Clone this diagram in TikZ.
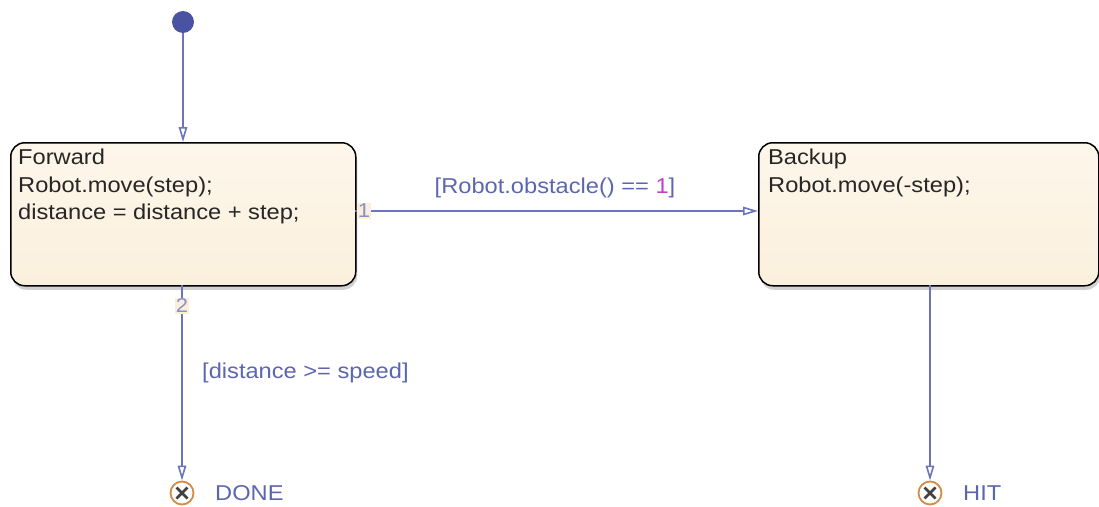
\documentclass[tikz,border=0pt]{standalone}
\usepackage{fontspec}
\setmainfont[FakeStretch=1.1]{Liberation Sans}
\usetikzlibrary{arrows.meta,shadows}
\definecolor{trans}{HTML}{6C74BE}
\definecolor{lbl}{HTML}{5C66B0}
\definecolor{dotc}{HTML}{4A53A2}
\definecolor{cream}{HTML}{FBF0DD}
\definecolor{creamtop}{HTML}{FDF6EA}
\definecolor{termc}{HTML}{D58A45}
\definecolor{numc}{HTML}{8A90C8}
\definecolor{numbg}{HTML}{FBEFDB}
\definecolor{magc}{HTML}{C040C0}
\tikzset{
  statebox/.style={draw=black, line width=1.5pt, rounded corners=14pt,
    top color=creamtop, bottom color=cream, minimum width=345pt, minimum height=143pt,
    anchor=north west, inner sep=0pt,
    drop shadow={shadow xshift=1.5pt, shadow yshift=-4pt, opacity=0.3, fill=black!60}},
  statetext/.style={anchor=north west, align=left, inner sep=0pt, text=black!85,
    font=\fontsize{21.5}{27.5}\selectfont},
  trline/.style={draw=trans, line width=1.6pt, -{Triangle[open, length=15pt, width=8.5pt]}},
  guard/.style={text=lbl, font=\fontsize{21.5}{26}\selectfont, inner sep=0pt},
  num/.style={text=numc, fill=numbg, font=\fontsize{20}{24}\selectfont, inner sep=1pt},
  term/.style={circle, draw=termc, line width=1.8pt, minimum size=23pt, inner sep=0pt, fill=white},
  termx/.style={black!75, line width=2.6pt},
  termlbl/.style={text=lbl, font=\fontsize{21.5}{26}\selectfont, anchor=west, inner sep=0pt},
}
\begin{document}
\begin{tikzpicture}[x=1pt,y=-1pt]
\useasboundingbox (0,0) rectangle (1099,506);
% states
\node[statebox] (fwd) at (10,142) {};
\node[statetext] (fwdtxt) at (18,149) {Forward\\Robot.move(step);\\distance = distance + step;};
\node[statebox, minimum width=340pt] (bak) at (758,142) {};
\node[statetext] (baktxt) at (768,149) {Backup\\Robot.move(-step);};
% initial
\node[circle, fill=dotc, minimum size=22pt, inner sep=0pt] (init) at (183,22) {};
\coordinate (fwdtop) at (183,142);
\draw[trline] (init) -- (fwdtop);
% terminals
\node[term] (done) at (182,493) {};
\draw[termx] (done.center) ++(-5.5,-5.5) -- ++(11,11) (done.center) ++(-5.5,5.5) -- ++(11,-11);
\node[termlbl] (donel) at (215,493) {DONE};
\node[term] (hit) at (930,493) {};
\draw[termx] (hit.center) ++(-5.5,-5.5) -- ++(11,11) (hit.center) ++(-5.5,5.5) -- ++(11,-11);
\node[termlbl] (hitl) at (963,493) {HIT};
% transition 1
\coordinate (f1) at (355,211);
\coordinate (b1) at (758,211);
\draw[trline] (f1) -- (b1);
\node[num] (n1) at (364,211) {1};
\node[guard] (g1) at (555,188) {[Robot.obstacle() == \textcolor{magc}{1}]};
% transition 2
\coordinate (f2) at (182,285);
\draw[trline] (f2) -- (done.north);
\node[num] (n2) at (182,306) {2};
\node[guard, anchor=west] (g2) at (202,373) {[distance >= speed]};
% backup to hit
\coordinate (b2) at (930,285);
\draw[trline] (b2) -- (hit.north);
\end{tikzpicture}
\end{document}
